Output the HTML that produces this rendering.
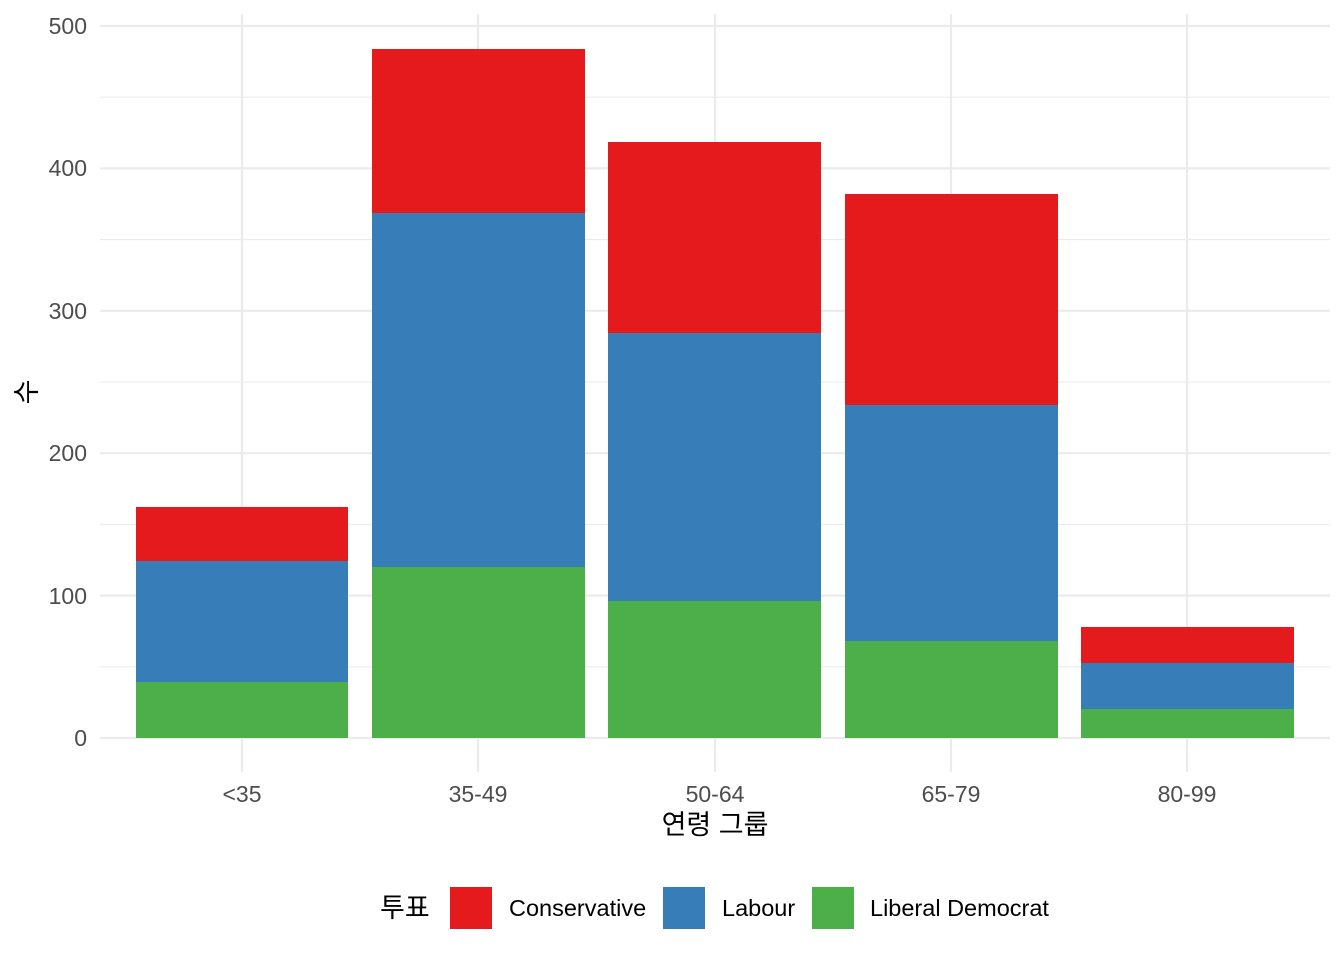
<!DOCTYPE html>
<html><head><meta charset="utf-8"><style>
body{margin:0;background:#fff}
svg{display:block}
text{font-family:"Liberation Sans","Noto Sans CJK KR",sans-serif}
</style></head><body>
<svg width="1344" height="960" xmlns="http://www.w3.org/2000/svg">
<g stroke="#ebebeb" stroke-width="1.1">
<line x1="100" x2="1330" y1="666.8" y2="666.8"/><line x1="100" x2="1330" y1="524.4" y2="524.4"/>
<line x1="100" x2="1330" y1="382" y2="382"/><line x1="100" x2="1330" y1="239.6" y2="239.6"/>
<line x1="100" x2="1330" y1="97.2" y2="97.2"/>
</g>
<g stroke="#ebebeb" stroke-width="2.2">
<line x1="100" x2="1330" y1="738" y2="738"/><line x1="100" x2="1330" y1="595.6" y2="595.6"/>
<line x1="100" x2="1330" y1="453.2" y2="453.2"/><line x1="100" x2="1330" y1="310.8" y2="310.8"/>
<line x1="100" x2="1330" y1="168.4" y2="168.4"/><line x1="100" x2="1330" y1="26" y2="26"/>
<line x1="242" x2="242" y1="14" y2="772"/><line x1="478" x2="478" y1="14" y2="772"/>
<line x1="715" x2="715" y1="14" y2="772"/><line x1="951" x2="951" y1="14" y2="772"/>
<line x1="1187" x2="1187" y1="14" y2="772"/>
</g>
<g>
<rect x="136" y="507" width="212" height="54" fill="#e41a1c"/><rect x="136" y="561" width="212" height="121" fill="#377eb8"/><rect x="136" y="682" width="212" height="56" fill="#4daf4a"/>
<rect x="372" y="49" width="213" height="164" fill="#e41a1c"/><rect x="372" y="213" width="213" height="354" fill="#377eb8"/><rect x="372" y="567" width="213" height="171" fill="#4daf4a"/>
<rect x="608" y="142" width="213" height="191" fill="#e41a1c"/><rect x="608" y="333" width="213" height="268" fill="#377eb8"/><rect x="608" y="601" width="213" height="137" fill="#4daf4a"/>
<rect x="845" y="194" width="213" height="211" fill="#e41a1c"/><rect x="845" y="405" width="213" height="236" fill="#377eb8"/><rect x="845" y="641" width="213" height="97" fill="#4daf4a"/>
<rect x="1081" y="627" width="213" height="36" fill="#e41a1c"/><rect x="1081" y="663" width="213" height="46" fill="#377eb8"/><rect x="1081" y="709" width="213" height="29" fill="#4daf4a"/>
</g>
<g fill="#4d4d4d" font-size="23" text-anchor="end">
<text x="87" y="746">0</text><text x="87" y="604">100</text><text x="87" y="461">200</text>
<text x="87" y="319">300</text><text x="87" y="176">400</text><text x="87" y="34">500</text>
</g>
<g fill="#4d4d4d" font-size="23" text-anchor="middle">
<text x="242" y="802">&lt;35</text><text x="478" y="802">35-49</text><text x="715" y="802">50-64</text>
<text x="951" y="802">65-79</text><text x="1187" y="802">80-99</text>
</g>
<text x="715" y="834" font-size="27" text-anchor="middle" fill="#000">연령 그룹</text>
<text transform="translate(36,392) rotate(-90)" font-size="27" text-anchor="middle" fill="#000">수</text>
<text x="380" y="917" font-size="27" fill="#000">투표</text>
<rect x="450" y="887" width="42" height="42" fill="#e41a1c"/>
<text x="509" y="916" font-size="23.5" fill="#000">Conservative</text>
<rect x="663" y="887" width="42" height="42" fill="#377eb8"/>
<text x="722" y="916" font-size="23.5" fill="#000">Labour</text>
<rect x="812" y="887" width="42" height="42" fill="#4daf4a"/>
<text x="870" y="916" font-size="23.5" fill="#000">Liberal Democrat</text>
</svg>
</body></html>
